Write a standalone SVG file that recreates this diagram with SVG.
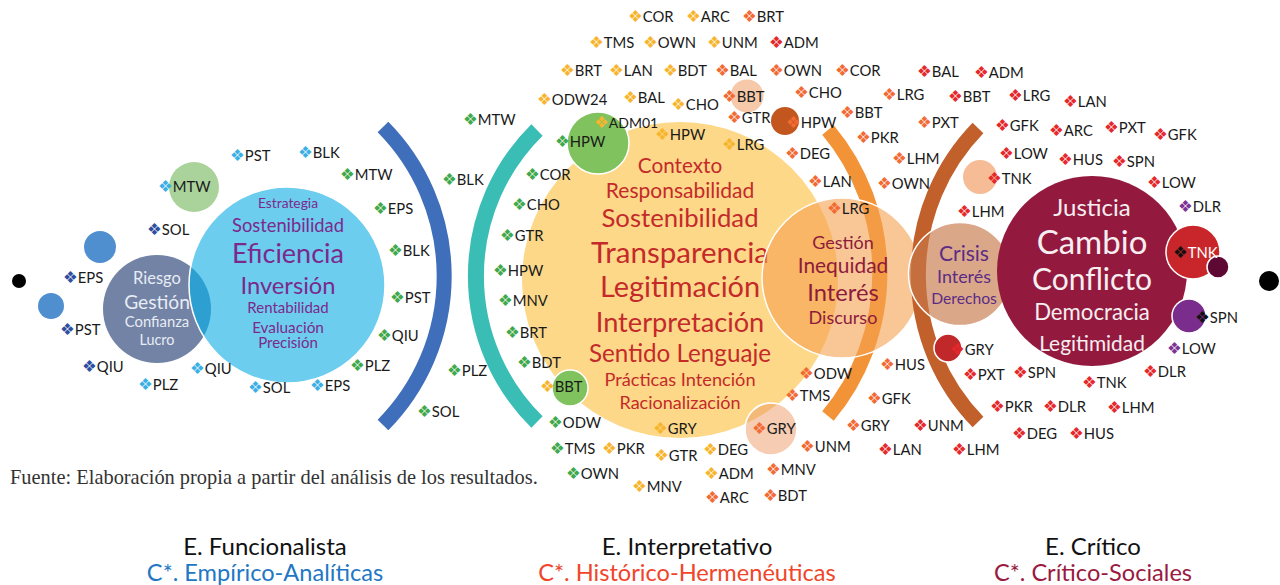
<svg xmlns="http://www.w3.org/2000/svg" width="1280" height="585" viewBox="0 0 1280 585">
<style>
text{font-family:Lato,"Liberation Sans",sans-serif}
.t{font-size:14.8px;fill:#1a1a1a}
.b{font-family:"DejaVu Sans",sans-serif;font-size:16.5px}
.db{fill:#2f4ea0}.lbl{fill:#3cb0e5}.g{fill:#3fa94b}.y{fill:#f7b52e}.o{fill:#f26a34}.r{fill:#e4282b}.p{fill:#7b3394}.k{fill:#111}
.m{text-anchor:middle}
.arc{fill:none}
.wb{stroke:#fff;stroke-width:1.5}
.pu{fill:#7b2a8c}.rd{fill:#c42a2a}.mr{fill:#8e1b3b}.cp{fill:#5b2c83}.wt{fill:#f6eef1}.gt{fill:#e8ecf4}
</style>
<defs>
<clipPath id="clipEf"><circle cx="287" cy="285" r="98"/></clipPath>
</defs>

<g id="dot-left"><circle cx="19" cy="281" r="7" fill="#000"/></g>
<g id="dot-right"><circle cx="1269" cy="281" r="10" fill="#000"/></g>
<g id="blue-dot-1"><circle cx="100" cy="247" r="16" fill="#4f8fd0"/></g>
<g id="blue-dot-2"><circle cx="51" cy="306" r="13" fill="#4f8fd0"/></g>

<g id="node-riesgo">
<circle cx="157" cy="309" r="54" fill="#7283a6"/>
<text class="m gt" x="157" y="284" font-size="16.5">Riesgo</text>
<text class="m gt" x="157" y="309" font-size="19.2">Gestión</text>
<text class="m gt" x="157" y="327" font-size="14.8">Confianza</text>
<text class="m gt" x="157" y="345" font-size="14.4">Lucro</text>
</g>

<g id="node-eficiencia">
<circle cx="287" cy="285" r="98" fill="#6dcdef"/>
<circle cx="157" cy="309" r="54" fill="#2e9fd1" clip-path="url(#clipEf)"/>
<circle cx="287" cy="285" r="98" fill="none" class="wb"/>
<text class="m pu" x="288" y="208" font-size="13.8">Estrategia</text>
<text class="m pu" x="288" y="231.6" font-size="18.3">Sostenibilidad</text>
<text class="m pu" x="288" y="262.7" font-size="27">Eficiencia</text>
<text class="m pu" x="288" y="293.5" font-size="23.7">Inversión</text>
<text class="m pu" x="288" y="313.4" font-size="15">Rentabilidad</text>
<text class="m pu" x="288" y="332.5" font-size="15.3">Evaluación</text>
<text class="m pu" x="288" y="348.4" font-size="15">Precisión</text>
</g>

<g id="node-mtw"><circle cx="194" cy="187" r="25" fill="#a9d39b"/></g>

<g id="arcs">
<path class="arc" d="M 383 127 A 212 212 0 0 1 383 425" stroke="#3f6ebb" stroke-width="15"/>
<path class="arc" d="M 537 130 A 205 205 0 0 0 537 422" stroke="#3abdb4" stroke-width="16"/>
</g>

<g id="node-interpretativo">
<circle cx="680" cy="280" r="158" fill="#fdd888"/>
<text class="m rd" x="680" y="172.5" font-size="20.7">Contexto</text>
<text class="m rd" x="680" y="197.6" font-size="21">Responsabilidad</text>
<text class="m rd" x="680" y="227.3" font-size="25.7">Sostenibilidad</text>
<text class="m rd" x="680" y="262.6" font-size="29.5">Transparencia</text>
<text class="m rd" x="680" y="297.4" font-size="28.9">Legitimación</text>
<text class="m rd" x="680" y="331.8" font-size="27.2">Interpretación</text>
<text class="m rd" x="680" y="361.7" font-size="24.2">Sentido Lenguaje</text>
<text class="m rd" x="680" y="385.6" font-size="18.2">Prácticas Intención</text>
<text class="m rd" x="680" y="408.5" font-size="18">Racionalización</text>
</g>

<g id="node-hpw-green"><circle cx="598" cy="143" r="31" fill="#80c25d" class="wb"/></g>
<g id="node-bbt-green"><circle cx="570" cy="388" r="18" fill="#80c25d" class="wb"/></g>
<g id="node-bbt-peach"><circle cx="747" cy="96" r="16.5" fill="#f6c9aa"/></g>
<g id="node-hpw-brown"><circle cx="785" cy="121" r="14" fill="#c2561e"/></g>
<g id="node-gry-peach"><circle cx="771" cy="429" r="26" fill="#ee9a66" fill-opacity="0.5" class="wb"/></g>

<g id="arc-orange"><path class="arc" d="M 828 130 A 223 223 0 0 1 828 416" stroke="#f39337" stroke-width="15"/></g>

<g id="node-gestion">
<circle cx="842" cy="278" r="80" fill="#f5a050" fill-opacity="0.6" class="wb"/>
<text class="m mr" x="843" y="248.5" font-size="18">Gestión</text>
<text class="m mr" x="843" y="272.5" font-size="20.9">Inequidad</text>
<text class="m mr" x="843" y="300.5" font-size="23.7">Interés</text>
<text class="m mr" x="843" y="323.5" font-size="18">Discurso</text>
</g>

<g id="arc-brown"><path class="arc" d="M 978 128 A 211 211 0 0 0 978 422" stroke="#c1602b" stroke-width="15"/></g>

<g id="node-crisis">
<circle cx="960" cy="274" r="51.5" fill="#c8784a" fill-opacity="0.65" class="wb"/>
</g>
<g id="node-tnk-peach"><circle cx="980" cy="177" r="17" fill="#f5bc96"/></g>
<g id="node-gry-red"><circle cx="948" cy="348" r="14" fill="#c0282a" class="wb"/></g>

<g id="node-critico">
<circle cx="1092" cy="271" r="95" fill="#931a3e"/>
<text class="m wt" x="1092" y="215.6" font-size="24">Justicia</text>
<text class="m wt" x="1092" y="254" font-size="33">Cambio</text>
<text class="m wt" x="1092" y="289.7" font-size="30">Conflicto</text>
<text class="m wt" x="1092" y="320" font-size="22.2">Democracia</text>
<text class="m wt" x="1092" y="350.5" font-size="20.9">Legitimidad</text>
</g>
<g id="node-crisis-text">
<text class="m cp" x="964" y="260.6" font-size="21">Crisis</text>
<text class="m cp" x="964" y="283.4" font-size="17.9">Interés</text>
<text class="m cp" x="964" y="303.7" font-size="15.7">Derechos</text>
</g>
<g id="node-tnk-red"><circle cx="1193" cy="252" r="27" fill="#c9262b" class="wb"/></g>
<g id="node-dark-dot"><circle cx="1218" cy="267" r="11" fill="#5e0834" class="wb"/></g>
<g id="node-spn-purple"><circle cx="1189" cy="316" r="17" fill="#7b2d8e" class="wb"/></g>

<g id="labels-funcionalista">
<text class="t" x="158" y="192"><tspan class="b lbl">❖</tspan>MTW</text>
<text class="t" x="147" y="235"><tspan class="b db">❖</tspan>SOL</text>
<text class="t" x="63" y="283"><tspan class="b db">❖</tspan>EPS</text>
<text class="t" x="60" y="335"><tspan class="b db">❖</tspan>PST</text>
<text class="t" x="82" y="372"><tspan class="b db">❖</tspan>QIU</text>
<text class="t" x="138" y="390"><tspan class="b lbl">❖</tspan>PLZ</text>
<text class="t" x="190" y="374"><tspan class="b lbl">❖</tspan>QIU</text>
<text class="t" x="248" y="393"><tspan class="b lbl">❖</tspan>SOL</text>
<text class="t" x="310" y="391"><tspan class="b lbl">❖</tspan>EPS</text>
<text class="t" x="230" y="161"><tspan class="b lbl">❖</tspan>PST</text>
<text class="t" x="298" y="158"><tspan class="b lbl">❖</tspan>BLK</text>
<text class="t" x="340" y="180"><tspan class="b g">❖</tspan>MTW</text>
<text class="t" x="373" y="214"><tspan class="b g">❖</tspan>EPS</text>
<text class="t" x="388" y="256"><tspan class="b g">❖</tspan>BLK</text>
<text class="t" x="390" y="303"><tspan class="b g">❖</tspan>PST</text>
<text class="t" x="377" y="341"><tspan class="b g">❖</tspan>QIU</text>
<text class="t" x="350" y="371"><tspan class="b g">❖</tspan>PLZ</text>
<text class="t" x="463" y="125"><tspan class="b g">❖</tspan>MTW</text>
<text class="t" x="442" y="185"><tspan class="b g">❖</tspan>BLK</text>
<text class="t" x="447" y="376"><tspan class="b g">❖</tspan>PLZ</text>
<text class="t" x="417" y="417"><tspan class="b g">❖</tspan>SOL</text>
</g>

<g id="labels-interpretativo">
<text class="t" x="525" y="180"><tspan class="b g">❖</tspan>COR</text>
<text class="t" x="512" y="210"><tspan class="b g">❖</tspan>CHO</text>
<text class="t" x="500" y="241"><tspan class="b g">❖</tspan>GTR</text>
<text class="t" x="493" y="276"><tspan class="b g">❖</tspan>HPW</text>
<text class="t" x="498" y="306"><tspan class="b g">❖</tspan>MNV</text>
<text class="t" x="505" y="338"><tspan class="b g">❖</tspan>BRT</text>
<text class="t" x="517" y="368"><tspan class="b g">❖</tspan>BDT</text>
<text class="t" x="540" y="392"><tspan class="b y">❖</tspan>BBT</text>
<text class="t" x="548" y="428"><tspan class="b g">❖</tspan>ODW</text>
<text class="t" x="550" y="454"><tspan class="b g">❖</tspan>TMS</text>
<text class="t" x="566" y="479"><tspan class="b g">❖</tspan>OWN</text>
<text class="t" x="602" y="454"><tspan class="b y">❖</tspan>PKR</text>
<text class="t" x="653" y="434"><tspan class="b y">❖</tspan>GRY</text>
<text class="t" x="654" y="461"><tspan class="b y">❖</tspan>GTR</text>
<text class="t" x="632" y="492"><tspan class="b y">❖</tspan>MNV</text>
<text class="t" x="703" y="455"><tspan class="b y">❖</tspan>DEG</text>
<text class="t" x="704" y="479"><tspan class="b y">❖</tspan>ADM</text>
<text class="t" x="705" y="503"><tspan class="b o">❖</tspan>ARC</text>
<text class="t" x="763" y="501"><tspan class="b o">❖</tspan>BDT</text>
<text class="t" x="766" y="475"><tspan class="b o">❖</tspan>MNV</text>
<text class="t" x="752" y="434"><tspan class="b o">❖</tspan>GRY</text>
<text class="t" x="800" y="452"><tspan class="b o">❖</tspan>UNM</text>
<text class="t" x="785" y="401"><tspan class="b o">❖</tspan>TMS</text>
<text class="t" x="799" y="379"><tspan class="b o">❖</tspan>ODW</text>
<text class="t" x="555" y="147"><tspan class="b g">❖</tspan>HPW</text>
<text class="t" x="594" y="127.5" style="font-size:14px"><tspan class="b y">❖</tspan>ADM01</text>
<text class="t" x="655" y="139.5"><tspan class="b y">❖</tspan>HPW</text>
<text class="t" x="722" y="150"><tspan class="b y">❖</tspan>LRG</text>
<text class="t" x="537" y="105"><tspan class="b y">❖</tspan>ODW24</text>
<text class="t" x="623" y="103"><tspan class="b y">❖</tspan>BAL</text>
<text class="t" x="671" y="110"><tspan class="b y">❖</tspan>CHO</text>
<text class="t" x="722" y="102"><tspan class="b o">❖</tspan>BBT</text>
<text class="t" x="794" y="98"><tspan class="b o">❖</tspan>CHO</text>
<text class="t" x="727" y="123"><tspan class="b o">❖</tspan>GTR</text>
<text class="t" x="786" y="128"><tspan class="b o">❖</tspan>HPW</text>
<text class="t" x="840" y="118"><tspan class="b o">❖</tspan>BBT</text>
<text class="t" x="560" y="76"><tspan class="b y">❖</tspan>BRT</text>
<text class="t" x="609" y="76"><tspan class="b y">❖</tspan>LAN</text>
<text class="t" x="663" y="76"><tspan class="b y">❖</tspan>BDT</text>
<text class="t" x="715" y="76"><tspan class="b o">❖</tspan>BAL</text>
<text class="t" x="769" y="76"><tspan class="b o">❖</tspan>OWN</text>
<text class="t" x="835" y="76"><tspan class="b o">❖</tspan>COR</text>
<text class="t" x="589" y="48"><tspan class="b y">❖</tspan>TMS</text>
<text class="t" x="643" y="48"><tspan class="b y">❖</tspan>OWN</text>
<text class="t" x="707" y="48"><tspan class="b y">❖</tspan>UNM</text>
<text class="t" x="769" y="48"><tspan class="b r">❖</tspan>ADM</text>
<text class="t" x="628" y="22"><tspan class="b y">❖</tspan>COR</text>
<text class="t" x="686" y="22"><tspan class="b y">❖</tspan>ARC</text>
<text class="t" x="742" y="22"><tspan class="b o">❖</tspan>BRT</text>
<text class="t" x="856" y="143"><tspan class="b o">❖</tspan>PKR</text>
<text class="t" x="785" y="159"><tspan class="b o">❖</tspan>DEG</text>
<text class="t" x="808" y="187"><tspan class="b o">❖</tspan>LAN</text>
<text class="t" x="827" y="214"><tspan class="b o">❖</tspan>LRG</text>
<text class="t" x="877" y="189"><tspan class="b o">❖</tspan>OWN</text>
<text class="t" x="892" y="164"><tspan class="b o">❖</tspan>LHM</text>
<text class="t" x="882" y="100"><tspan class="b o">❖</tspan>LRG</text>
<text class="t" x="917" y="128"><tspan class="b o">❖</tspan>PXT</text>
<text class="t" x="880" y="370"><tspan class="b o">❖</tspan>HUS</text>
<text class="t" x="867" y="404"><tspan class="b o">❖</tspan>GFK</text>
<text class="t" x="846" y="431"><tspan class="b o">❖</tspan>GRY</text>
<text class="t" x="878" y="455"><tspan class="b r">❖</tspan>LAN</text>
</g>

<g id="labels-critico">
<text class="t" x="917" y="77"><tspan class="b r">❖</tspan>BAL</text>
<text class="t" x="974" y="78"><tspan class="b r">❖</tspan>ADM</text>
<text class="t" x="948" y="102"><tspan class="b r">❖</tspan>BBT</text>
<text class="t" x="1008" y="101"><tspan class="b r">❖</tspan>LRG</text>
<text class="t" x="1063" y="107"><tspan class="b r">❖</tspan>LAN</text>
<text class="t" x="995" y="131"><tspan class="b r">❖</tspan>GFK</text>
<text class="t" x="1049" y="136"><tspan class="b r">❖</tspan>ARC</text>
<text class="t" x="1104" y="133"><tspan class="b r">❖</tspan>PXT</text>
<text class="t" x="1153" y="140"><tspan class="b r">❖</tspan>GFK</text>
<text class="t" x="999" y="159"><tspan class="b r">❖</tspan>LOW</text>
<text class="t" x="1058" y="165"><tspan class="b r">❖</tspan>HUS</text>
<text class="t" x="1112" y="167"><tspan class="b r">❖</tspan>SPN</text>
<text class="t" x="1147" y="188"><tspan class="b r">❖</tspan>LOW</text>
<text class="t" x="1178" y="212"><tspan class="b p">❖</tspan>DLR</text>
<text class="t" x="987" y="184"><tspan class="b r">❖</tspan>TNK</text>
<text class="t" x="957" y="217"><tspan class="b r">❖</tspan>LHM</text>
<text class="t" x="1173" y="258" style="fill:#fff"><tspan class="b k">❖</tspan>TNK</text>
<text class="t" x="1195" y="323"><tspan class="b k">❖</tspan>SPN</text>
<text class="t" x="1167" y="354"><tspan class="b p">❖</tspan>LOW</text>
<text class="t" x="1143" y="377"><tspan class="b r">❖</tspan>DLR</text>
<text class="t" x="1082" y="388"><tspan class="b r">❖</tspan>TNK</text>
<text class="t" x="1013" y="378"><tspan class="b r">❖</tspan>SPN</text>
<text class="t" x="963" y="380"><tspan class="b r">❖</tspan>PXT</text>
<text class="t" x="950" y="355"><tspan class="b r">❖</tspan>GRY</text>
<text class="t" x="990" y="412"><tspan class="b r">❖</tspan>PKR</text>
<text class="t" x="1043" y="412"><tspan class="b r">❖</tspan>DLR</text>
<text class="t" x="1107" y="413"><tspan class="b r">❖</tspan>LHM</text>
<text class="t" x="1012" y="439"><tspan class="b r">❖</tspan>DEG</text>
<text class="t" x="1069" y="439"><tspan class="b r">❖</tspan>HUS</text>
<text class="t" x="913" y="431"><tspan class="b r">❖</tspan>UNM</text>
<text class="t" x="952" y="455"><tspan class="b r">❖</tspan>LHM</text>
</g>

<g id="caption">
<text x="10" y="484" font-size="20.4" fill="#333" style="font-family:'Liberation Serif',serif">Fuente: Elaboración propia a partir del análisis de los resultados.</text>
</g>

<g id="legend">
<text class="m" x="265" y="555" font-size="24" fill="#111">E. Funcionalista</text>
<text class="m" x="265" y="581" font-size="23.6" fill="#2277c4">C*. Empírico-Analíticas</text>
<text class="m" x="687" y="555" font-size="24" fill="#111">E. Interpretativo</text>
<text class="m" x="687" y="581" font-size="23.6" fill="#f0452a">C*. Histórico-Hermenéuticas</text>
<text class="m" x="1093" y="555" font-size="24" fill="#111">E. Crítico</text>
<text class="m" x="1093" y="581" font-size="23.6" fill="#9a1a40">C*. Crítico-Sociales</text>
</g>
</svg>
